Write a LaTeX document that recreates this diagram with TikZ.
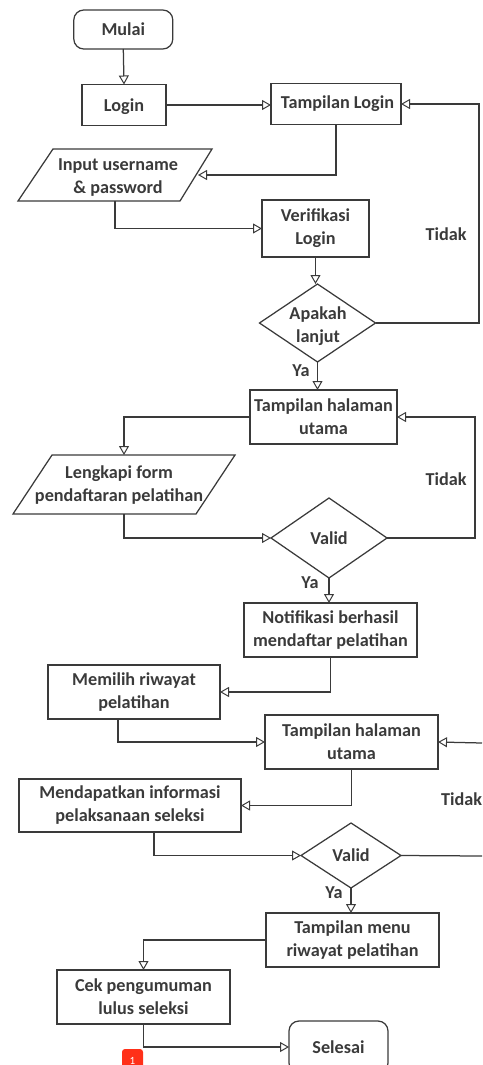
\documentclass[tikz,border=0pt]{standalone}
\usepackage{fontspec}
\setmainfont{Carlito}
\usetikzlibrary{arrows.meta}
\definecolor{ink}{HTML}{3A3A3A}
\tikzset{
  base/.style={draw=ink,line width=1.25pt,inner sep=0pt,outer sep=0pt,align=center,text=ink,font=\fontsize{18.2}{23}\selectfont\bfseries},
  box/.style={base,rectangle},
  term/.style={base,rectangle,rounded corners=10pt},
  dec/.style={base,shape=diamond,aspect=1.45},
  paraline/.style={draw=ink,line width=1.25pt,line join=miter},
  lbl/.style={text=ink,inner sep=0pt,align=center,font=\fontsize{18.2}{23}\selectfont\bfseries},
  flow/.style={draw=ink,line width=1.25pt,-{Triangle[open,length=9pt,width=10pt,line width=1pt]}}
}
\usetikzlibrary{shapes.geometric}
\begin{document}
\begin{tikzpicture}[x=1pt,y=-1pt]
\useasboundingbox (0,0) rectangle (482,1065);
\clip (0,0) rectangle (482,1065);
% parallelogram outlines and their connection points
\coordinate (inputtop) at (53,149);
\coordinate (inputtr) at (212,149);
\coordinate (inputbr) at (180,201);
\coordinate (inputbl) at (18,201);
\coordinate (inputin) at (198,175);
\coordinate (inputout) at (115,201);
\draw[paraline] (inputtop) -- (inputtr) -- (inputbr) -- (inputbl) -- cycle;
\coordinate (lengtl) at (52,455);
\coordinate (lengtr) at (235,455);
\coordinate (lengbr) at (196,514);
\coordinate (lengbl) at (13,514);
\coordinate (lengin) at (124,455);
\coordinate (lengout) at (124,514);
\draw[paraline] (lengtl) -- (lengtr) -- (lengbr) -- (lengbl) -- cycle;
% nodes
\node[term,minimum width=99,minimum height=39] (mulai) at (123.3,29.5) {Mulai};
\node[box,text depth=0pt,minimum width=84,minimum height=41] (login) at (124,105) {Login};
\node[box,minimum width=130,minimum height=41] (tl) at (336,104) {\hspace*{3pt}Tampilan Login};
\node[lbl] (inputt) at (118,177.5) {Input username\\\& password};
\node[box,minimum width=107,minimum height=57] (verif) at (315.5,228.5) {Verifikasi\\Login};
\node[dec,minimum width=116,minimum height=78] (apakah) at (317.5,323) {};
\node[lbl] (apakaht) at (318,326.5) {Apakah\\lanjut};
\node[lbl] (ya1) at (301,371) {Ya};
\node[lbl] (tidak1) at (446,234.5) {Tidak};
\node[box,minimum width=147,minimum height=54] (th1) at (323.5,417) {Tampilan halaman\\utama};
\node[lbl] (lengkapit) at (119,485) {Lengkapi form\\pendaftaran pelatihan};
\node[dec,minimum width=116,minimum height=80] (valid1) at (329,538) {Valid};
\node[lbl] (tidak2) at (446,479.5) {Tidak};
\node[lbl] (ya2) at (310,583) {Ya};
\node[box,minimum width=173,minimum height=54] (notif) at (330.5,630) {Notifikasi berhasil\\mendaftar pelatihan};
\node[box,minimum width=172,minimum height=54] (memilih) at (134,692) {Memilih riwayat\\pelatihan};
\node[box,minimum width=173,minimum height=54] (th2) at (351.5,742) {Tampilan halaman\\utama};
\node[box,minimum width=222,minimum height=53] (mend) at (130,805.5) {Mendapatkan informasi\\pelaksanaan seleksi};
\node[dec,minimum width=100,minimum height=65] (valid2) at (351,855.5) {Valid};
\node[lbl,anchor=west] (tidak3) at (441,799) {Tidak};
\node[lbl] (ya3) at (334,893) {Ya};
\node[box,minimum width=173,minimum height=54] (tm) at (352.5,940) {Tampilan menu\\riwayat pelatihan};
\node[box,minimum width=173,minimum height=54] (cek) at (143.5,997) {Cek pengumuman\\lulus seleksi};
\node[term,minimum width=99,minimum height=52] (selesai) at (338.5,1047) {Selesai};
\node[rectangle,fill=red!80!orange!90,rounded corners=3pt,minimum width=21,minimum height=23,inner sep=0pt,text=white,font=\fontsize{11}{13}\selectfont] (badge) at (132.5,1060.5) {1};
% free-end and bend coordinates
\coordinate (r1) at (479,323);
\coordinate (r2) at (475,538);
\coordinate (e1) at (482,856);
\coordinate (e2) at (482,743);
\coordinate (memilihout) at (118,719);
\coordinate (mendout) at (154,832);
% connectors
\draw[flow] (mulai.south) -- (login.north);
\draw[flow] (login.east) -- (login.east -| tl.west);
\draw[flow] (apakah.east) -- (r1) |- (tl.east);
\draw[flow] (tl.south) |- (inputin);
\draw[flow] (inputout) |- (verif.west);
\draw[flow] (verif.south) -- (verif.south |- apakah.north);
\draw[flow] (apakah.south) -- (apakah.south |- th1.north);
\draw[flow] (th1.west) -| (lengin);
\draw[flow] (lengout) |- (valid1.west);
\draw[flow] (valid1.east) -- (r2) |- (th1.east);
\draw[flow] (valid1.south) -- (valid1.south |- notif.north);
\draw[flow] (notif.south) |- (memilih.east);
\draw[flow] (memilihout) |- (th2.west);
\draw[flow] (e2) -- (th2.east);
\draw[flow] (th2.south) |- (mend.east);
\draw[flow] (mendout) |- (valid2.west);
\draw[draw=ink,line width=1.25pt] (valid2.east) -- (e1);
\draw[flow] (valid2.south) -- (valid2.south |- tm.north);
\draw[flow] (tm.west) -| (cek.north);
\draw[flow] (cek.south) |- (selesai.west);
\end{tikzpicture}
\end{document}
